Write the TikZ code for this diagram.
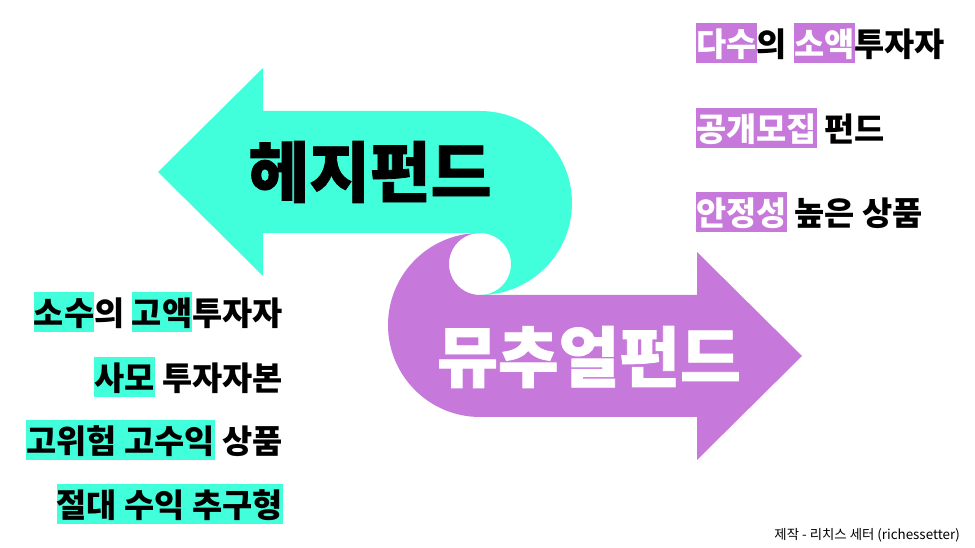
\documentclass[tikz,border=0pt]{standalone}
\usepackage{fontspec}
\newfontfamily\kr{Noto Sans CJK KR}
\newfontfamily\krheavy{Noto Sans CJK KR}[BoldFeatures={FakeBold=1.2}]
\usepackage{tikz}
\usetikzlibrary{positioning}
\definecolor{hedgeteal}{RGB}{66,255,220}
\definecolor{mutualpurple}{RGB}{198,121,218}
\newcommand{\hlstrut}{\rule[-0.2em]{0pt}{1.22em}}
\newcommand{\hlteal}[1]{{\setlength{\fboxsep}{0pt}\colorbox{hedgeteal}{\hlstrut#1}}}
\newcommand{\hlpurple}[1]{{\setlength{\fboxsep}{0pt}\colorbox{mutualpurple}{\hlstrut\textcolor{white}{#1}}}}
\tikzset{
  title/.style={font=\krheavy\bfseries\fontsize{66}{70}\selectfont,inner sep=0pt},
  feature/.style={font=\kr\bfseries\fontsize{32.8}{38}\selectfont,inner sep=0pt},
  credit/.style={font=\kr\fontsize{13.4}{16}\selectfont,inner sep=0pt}
}

\begin{document}
\begin{tikzpicture}[x=1pt,y=1pt]
  \useasboundingbox (0,0) rectangle (975,548);

  % hedge fund arrow, pointing left
  \fill[hedgeteal] (158,376) -- (263,480) -- (263,437) -- (480,437)
    arc[start angle=90,end angle=-90,radius=92]
    arc[start angle=-90,end angle=90,radius=31]
    -- (263,315) -- (263,272) -- cycle;

  % mutual fund arrow, pointing right
  \fill[mutualpurple] (802,192) -- (697,88) -- (697,131) -- (480,131)
    arc[start angle=-90,end angle=-270,radius=92]
    arc[start angle=90,end angle=270,radius=31]
    -- (697,253) -- (697,296) -- cycle;

  \node[title] (hedge) at (370,376) {헤지펀드};
  \node[title,text=white] (mutual) at (589,191) {뮤추얼펀드};

  % mutual fund features
  \node[feature,anchor=west] (pub1) at (696,505) {\hlpurple{다수}의 \hlpurple{소액}투자자};
  \node[feature,anchor=west] (pub2) at (696,420) {\hlpurple{공개모집} 펀드};
  \node[feature,anchor=west] (pub3) at (696,336) {\hlpurple{안정성} 높은 상품};

  % hedge fund features
  \node[feature,anchor=east] (priv1) at (283,236) {\hlteal{소수}의 \hlteal{고액}투자자};
  \node[feature,anchor=east] (priv2) at (283,171) {\hlteal{사모} 투자자본};
  \node[feature,anchor=east] (priv3) at (283,108) {\hlteal{고위험 고수익} 상품};
  \node[feature,anchor=east] (priv4) at (283,44) {\hlteal{절대 수익 추구형}};

  \node[credit,anchor=east] (maker) at (960,13) {제작 - 리치스 세터 (richessetter)};
\end{tikzpicture}
\end{document}
